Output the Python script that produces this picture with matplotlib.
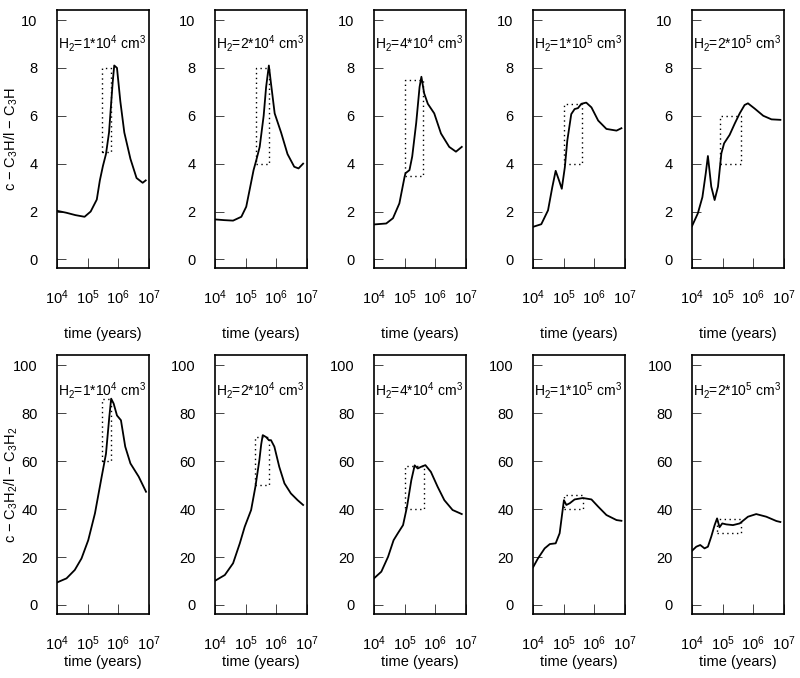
import numpy as np
import matplotlib
matplotlib.use("Agg")
import matplotlib.pyplot as plt
from matplotlib.ticker import LogLocator, FixedLocator, NullFormatter

plt.rcParams['font.family'] = ['Liberation Sans', 'DejaVu Sans']
plt.rcParams['mathtext.fontset'] = 'custom'
plt.rcParams['mathtext.rm'] = 'Liberation Sans'
plt.rcParams['mathtext.it'] = 'Liberation Sans:italic'

# densities (labels of the panels)
dens_labels = [r'H$_2$=1*10$^4$ cm$^3$', r'H$_2$=2*10$^4$ cm$^3$', r'H$_2$=4*10$^4$ cm$^3$',
               r'H$_2$=1*10$^5$ cm$^3$', r'H$_2$=2*10$^5$ cm$^3$']

# ---- top row: c-C3H / l-C3H ; time given as log10(years)
c3h_logt = [
    [4.0, 4.3, 4.6, 4.9, 5.1, 5.3, 5.4, 5.5, 5.6, 5.7, 5.82, 5.87, 5.96, 6.07, 6.2, 6.4, 6.6, 6.8, 6.9],
    [4.0, 4.3, 4.59, 4.86, 5.02, 5.13, 5.26, 5.35, 5.46, 5.59, 5.67, 5.76, 5.83, 5.95, 6.16, 6.37, 6.59, 6.73, 6.88],
    [4.0, 4.4, 4.62, 4.83, 5.0, 5.03, 5.16, 5.25, 5.38, 5.49, 5.55, 5.64, 5.76, 5.97, 6.19, 6.46, 6.68, 6.87],
    [4.0, 4.27, 4.49, 4.63, 4.74, 4.85, 4.94, 5.04, 5.12, 5.25, 5.36, 5.47, 5.58, 5.74, 5.91, 6.13, 6.4, 6.73, 6.89],
    [4.0, 4.19, 4.34, 4.45, 4.52, 4.63, 4.74, 4.85, 4.96, 5.05, 5.23, 5.4, 5.56, 5.72, 5.83, 6.05, 6.33, 6.6, 6.89],
]
c3h_ratio = [
    [2.03, 1.95, 1.85, 1.78, 2.0, 2.5, 3.3, 3.9, 4.4, 5.3, 7.4, 8.1, 8.0, 6.6, 5.3, 4.2, 3.4, 3.2, 3.3],
    [1.67, 1.64, 1.62, 1.78, 2.2, 2.9, 3.73, 4.15, 4.7, 6.0, 7.2, 8.1, 7.35, 6.1, 5.3, 4.4, 3.87, 3.8, 4.0],
    [1.46, 1.5, 1.72, 2.34, 3.45, 3.6, 3.73, 4.3, 5.7, 7.2, 7.63, 6.94, 6.5, 6.1, 5.26, 4.7, 4.5, 4.7],
    [1.36, 1.47, 2.05, 3.02, 3.7, 3.3, 2.95, 3.85, 4.96, 6.07, 6.28, 6.32, 6.5, 6.55, 6.35, 5.8, 5.45, 5.38, 5.48],
    [1.39, 1.92, 2.6, 3.6, 4.32, 3.04, 2.48, 3.04, 4.43, 4.85, 5.2, 5.68, 6.1, 6.45, 6.52, 6.3, 6.0, 5.85, 5.83],
]
# dotted boxes: log10 t from/to, ratio from/to
c3h_box_t = [(5.46, 5.77), (5.33, 5.78), (5.0, 5.61), (5.01, 5.61), (4.93, 5.59)]
c3h_box_r = [(4.5, 8.0), (4.0, 8.0), (3.5, 7.5), (4.0, 6.5), (4.0, 6.0)]

# ---- bottom row: c-C3H2 / l-C3H2
c3h2_logt = [
    [4.0, 4.31, 4.58, 4.8, 5.02, 5.24, 5.46, 5.6, 5.71, 5.77, 5.85, 5.96, 6.09, 6.23, 6.4, 6.67, 6.91],
    [4.0, 4.32, 4.59, 4.81, 4.97, 5.18, 5.32, 5.45, 5.51, 5.56, 5.67, 5.76, 5.83, 5.94, 6.1, 6.27, 6.48, 6.7, 6.88],
    [4.0, 4.24, 4.46, 4.64, 4.78, 4.95, 5.08, 5.22, 5.33, 5.43, 5.54, 5.68, 5.86, 6.08, 6.3, 6.57, 6.87],
    [4.0, 4.16, 4.38, 4.55, 4.74, 4.87, 5.01, 5.09, 5.2, 5.36, 5.63, 5.91, 6.13, 6.4, 6.73, 6.89],
    [4.0, 4.14, 4.27, 4.41, 4.52, 4.63, 4.74, 4.82, 4.9, 4.99, 5.12, 5.34, 5.56, 5.83, 6.1, 6.43, 6.76, 6.89],
]
c3h2_ratio = [
    [9.4, 11.1, 14.6, 19.4, 27.0, 38.2, 53.5, 63.0, 78.5, 86.0, 84.0, 79.0, 77.0, 66.0, 59.0, 53.5, 47.2],
    [10.1, 12.5, 17.4, 25.7, 32.6, 39.6, 49.3, 60.4, 67.0, 70.8, 70.0, 68.7, 68.7, 66.0, 57.6, 50.7, 46.5, 43.7, 41.7],
    [11.1, 13.9, 20.1, 27.0, 29.9, 33.3, 41.0, 52.0, 58.2, 56.9, 57.6, 58.3, 55.5, 49.3, 43.7, 39.6, 37.9],
    [15.7, 19.4, 23.6, 25.4, 25.7, 29.9, 43.7, 41.7, 42.4, 44.0, 44.6, 44.0, 41.0, 37.5, 35.4, 35.1],
    [22.6, 24.3, 25.0, 23.6, 24.3, 28.5, 33.3, 36.1, 32.4, 34.0, 33.6, 33.3, 34.0, 36.8, 37.9, 36.8, 35.0, 34.6],
]
c3h2_box_t = [(5.46, 5.77), (5.32, 5.76), (5.02, 5.63), (5.01, 5.63), (4.82, 5.61)]
c3h2_box_r = [(60, 86), (50, 70), (40, 58), (40, 46), (30, 36)]

fig = plt.figure(figsize=(8, 6.78), dpi=100)

lefts = [0.0713, 0.2688, 0.4675, 0.6663, 0.865]
width = 0.115


def style_axes(ax, ylim, yticks, xlabelpad):
    ax.set_xscale('log')
    ax.set_xlim(1e4, 1.02e7)
    ax.set_ylim(*ylim)
    ax.set_yticks(yticks)
    ax.xaxis.set_major_locator(FixedLocator([1e4, 1e5, 1e6, 1e7]))
    ax.xaxis.set_minor_locator(LogLocator(base=10, subs=(2, 4, 6, 8)))
    ax.xaxis.set_minor_formatter(NullFormatter())
    ax.tick_params(axis='x', which='major', direction='in', length=7, width=0.7,
                   color='#444444', pad=15, labelsize=10.5)
    ax.tick_params(axis='x', which='minor', direction='in', length=4.5, width=0.7,
                   color='#444444')
    ax.tick_params(axis='y', which='major', direction='in', length=6.5, width=0.7,
                   color='#444444', pad=14, labelsize=10.5)
    for s in ax.spines.values():
        s.set_linewidth(1.2)
    ax.set_xlabel('time (years)', fontsize=10.5, labelpad=xlabelpad)


rows = [
    (0.6047, 0.3806, c3h_logt, c3h_ratio, c3h_box_t, c3h_box_r, (-0.36, 10.42),
     [0, 2, 4, 6, 8, 10], 14, 'c − C$_3$H/l − C$_3$H', 9.04),
    (0.0944, 0.382, c3h2_logt, c3h2_ratio, c3h2_box_t, c3h2_box_r, (-3.75, 104.2),
     [0, 20, 40, 60, 80, 100], 1, 'c − C$_3$H$_2$/l − C$_3$H$_2$', 89.6),
]

for bottom, height, logt, ratio, box_t, box_r, ylim, yticks, lpad, ylab, ytxt in rows:
    for i in range(5):
        ax = fig.add_axes([lefts[i], bottom, width, height])
        t = 10 ** np.array(logt[i])
        ax.plot(t, ratio[i], color='black', lw=1.3)
        bt0, bt1 = 10 ** box_t[i][0], 10 ** box_t[i][1]
        br0, br1 = box_r[i]
        ax.plot([bt0, bt1, bt1, bt0, bt0], [br0, br0, br1, br1, br0],
                color='black', lw=1.0, linestyle=(0, (1, 2.5)))
        style_axes(ax, ylim, yticks, lpad)
        ax.text(1.05e4, ytxt, dens_labels[i], fontsize=10, ha='left', va='center')
        if i == 0:
            ax.set_ylabel(ylab, fontsize=10.5)
            ax.yaxis.set_label_coords(-0.40, 0.5)

fig.savefig('out.png', dpi=100)
